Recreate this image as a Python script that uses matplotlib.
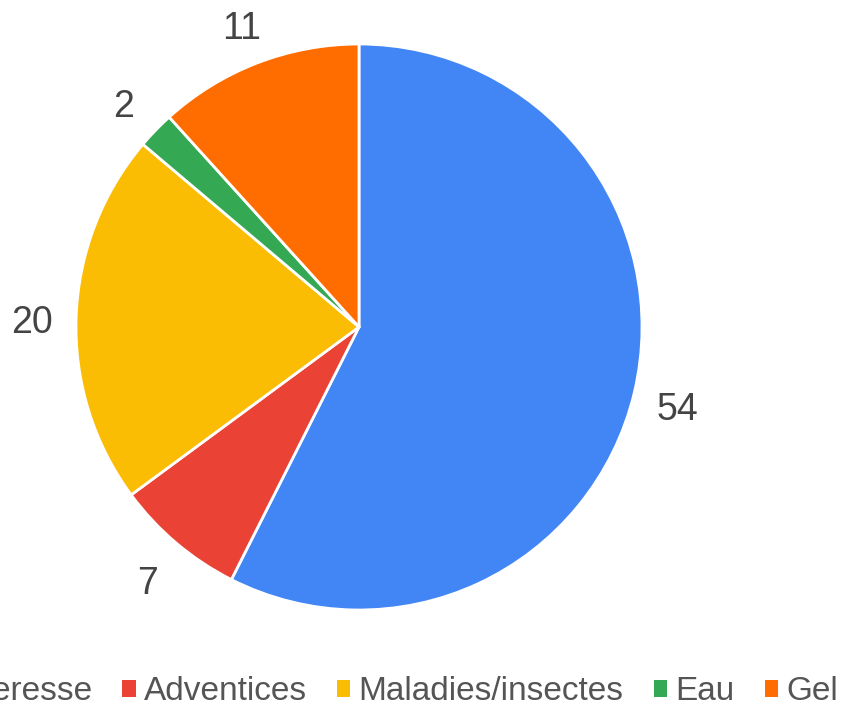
import matplotlib.pyplot as plt
import matplotlib.transforms as mtransforms
from matplotlib.patches import Patch

categories = ["Sécheresse", "Adventices", "Maladies/insectes", "Eau", "Gel"]
values = [54, 7, 20, 2, 11]
colors = ["#4285F4", "#EA4335", "#FBBC04", "#34A853", "#FF6D01"]

plt.rcParams["font.family"] = ["Liberation Sans", "DejaVu Sans"]

W, H = 842, 707
fig = plt.figure(figsize=(W / 100, H / 100), dpi=100)
ax = fig.add_axes([0, 0, 1, 1])

wedges, texts = ax.pie(
    values,
    labels=[str(v) for v in values],
    colors=colors,
    startangle=90,
    counterclock=False,
    center=(359, H - 327),
    radius=283,
    labeldistance=1.155,
    wedgeprops=dict(edgecolor="white", linewidth=2),
    textprops=dict(fontsize=27, color="#444444"),
    frame=True,
)
# nudge value labels down a little, like the original
shift = mtransforms.offset_copy(ax.transData, fig=fig, x=0, y=-7, units="dots")
for t in texts:
    t.set_ha("center")
    t.set_va("center")
    t.set_transform(shift)
ax.set_xlim(0, W)
ax.set_ylim(0, H)
ax.set_aspect("equal")
ax.axis("off")

handles = [Patch(facecolor=c, edgecolor="none") for c in colors]
fig.legend(
    handles, categories,
    loc="center right",
    bbox_to_anchor=(838 / W, 1 - 692 / H),
    ncol=5, frameon=False,
    fontsize=24, labelcolor="#555555",
    handlelength=0.4, handleheight=0.4,
    handletextpad=0.25, columnspacing=0.9,
    borderpad=0, borderaxespad=0,
)

fig.savefig("out.png", dpi=100)
